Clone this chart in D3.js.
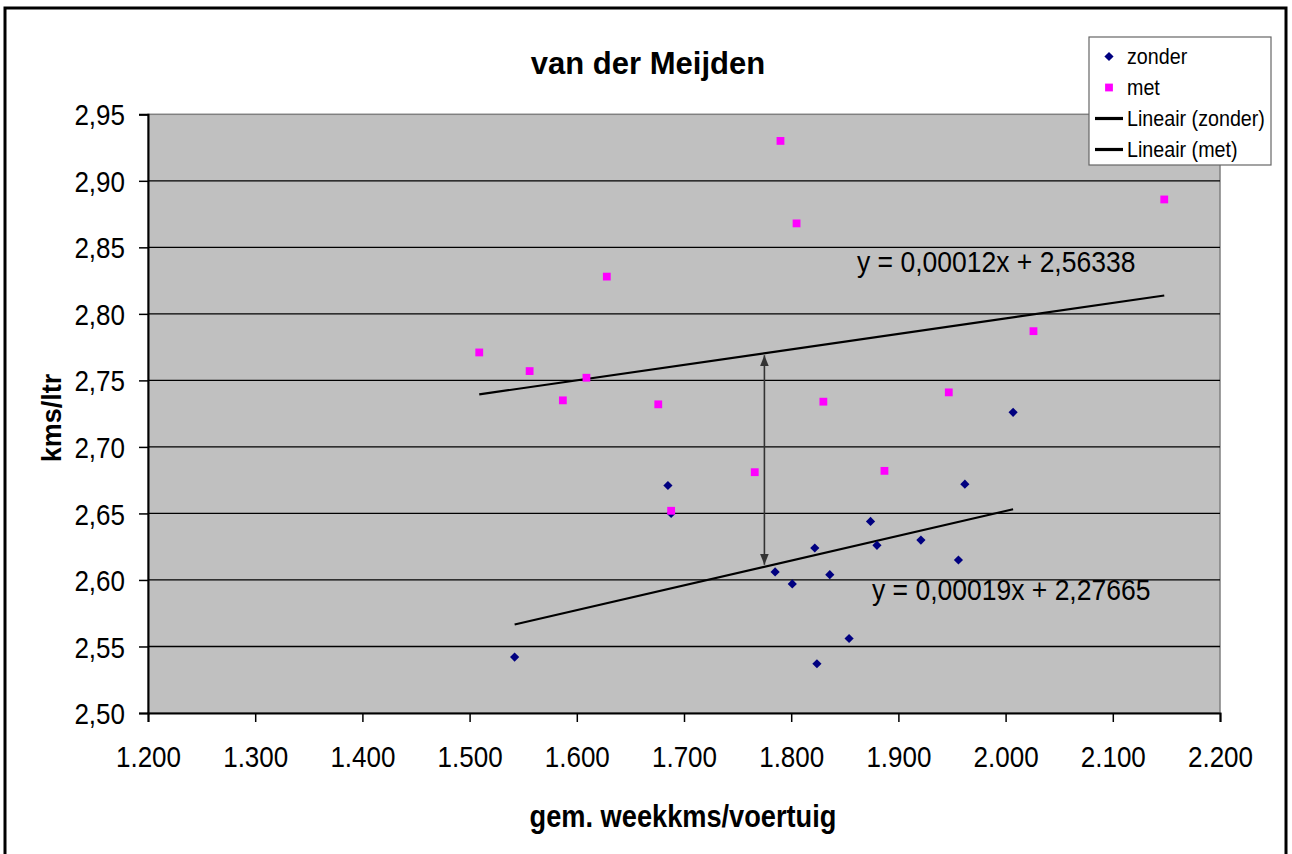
<!DOCTYPE html>
<html>
<head>
<meta charset="utf-8">
<script src="https://cdn.jsdelivr.net/npm/d3@7"></script>
<style>
  html, body { margin: 0; padding: 0; background: #fff; }
  svg text { font-family: "Liberation Sans", Arial, sans-serif; fill: #000; }
</style>
</head>
<body>
<svg id="chart" width="1292" height="854"></svg>
<script>
/* van der Meijden – kms/ltr vs gem. weekkms, with and without */

// ---- data ----
const zonderX = [1542, 1685, 1688, 1785, 1801, 1822, 1824, 1836, 1854, 1874, 1880, 1921, 1956, 1962, 2007];
const zonderY = [2.542, 2.671, 2.650, 2.606, 2.597, 2.624, 2.537, 2.604, 2.556, 2.644, 2.626, 2.630, 2.615, 2.672, 2.726];

const metX = [1509, 1556, 1587, 1609, 1628, 1676, 1688, 1766, 1790, 1805, 1830, 1887, 1947, 2026, 2148];
const metY = [2.771, 2.757, 2.735, 2.752, 2.828, 2.732, 2.652, 2.681, 2.930, 2.868, 2.734, 2.682, 2.741, 2.787, 2.886];

const xTicks = [1200, 1300, 1400, 1500, 1600, 1700, 1800, 1900, 2000, 2100, 2200];
const yTicks = [2.50, 2.55, 2.60, 2.65, 2.70, 2.75, 2.80, 2.85, 2.90, 2.95];

const legendLabels = ["zonder", "met", "Lineair (zonder)", "Lineair (met)"];
const eqLabels = ["y = 0,00012x + 2,56338", "y = 0,00019x + 2,27665"];
const arrowAt = 1775;   // x where the gap between both trends is marked

// ---- layout ----
const M = { left: 148, right: 1220, top: 114.3, bottom: 713 };
const SY = 1.13;        // the reference's text is drawn a bit tall
const DIAMOND = "M0,-4.6L4.6,0L0,4.6L-4.6,0Z";
const SQ = 7.8;

const svg = d3.select("#chart");
const nl = d3.formatLocale({ decimal: ",", thousands: ".", grouping: [3], currency: ["€", ""] });
const fmtX = nl.format(",.0f");
const fmtY = nl.format(".2f");

const x = d3.scaleLinear().domain([1200, 2200]).range([M.left, M.right]);
const y = d3.scaleLinear().domain([2.50, 2.95]).range([M.bottom, M.top]);

// outer frame
svg.append("rect")
  .attr("x", 5).attr("y", 8).attr("width", 1281).attr("height", 870)
  .attr("fill", "#fff").attr("stroke", "#000").attr("stroke-width", 3);

// plot area
svg.append("rect")
  .attr("x", M.left).attr("y", M.top)
  .attr("width", M.right - M.left).attr("height", M.bottom - M.top)
  .attr("fill", "#c0c0c0").attr("stroke", "#808080").attr("stroke-width", 1.5);

// gridlines
svg.append("g").selectAll("line")
  .data(yTicks.filter(t => t > 2.5 && t < 2.95))
  .join("line")
    .attr("x1", M.left).attr("x2", M.right)
    .attr("y1", d => y(d)).attr("y2", d => y(d))
    .attr("stroke", "#000").attr("stroke-width", 1.3);

// y axis
const gy = svg.append("g")
  .attr("transform", `translate(${M.left},0)`)
  .call(d3.axisLeft(y).tickValues(yTicks).tickFormat(fmtY).tickSize(9).tickPadding(14));
gy.select(".domain").attr("stroke-width", 2);
gy.selectAll(".tick line").attr("stroke-width", 1.5);
gy.selectAll(".tick text")
  .attr("font-size", 26).attr("font-family", "Liberation Sans, Arial, sans-serif")
  .attr("dy", "0.36em")
  .attr("transform", `scale(1,${SY})`);

// x axis
const gx = svg.append("g")
  .attr("transform", `translate(0,${M.bottom})`)
  .call(d3.axisBottom(x).tickValues(xTicks).tickFormat(fmtX).tickSize(9));
gx.select(".domain").attr("stroke-width", 2);
gx.selectAll(".tick line").attr("stroke-width", 1.5);
gx.selectAll(".tick text")
  .attr("font-size", 26).attr("font-family", "Liberation Sans, Arial, sans-serif")
  .attr("dy", 0).attr("y", 54 / SY)
  .attr("transform", `scale(1,${SY})`);

// least-squares trend lines (Excel "Lineair")
function fit(xs, ys) {
  const mx = d3.mean(xs), my = d3.mean(ys);
  const b = d3.sum(xs, (v, i) => (v - mx) * (ys[i] - my)) / d3.sum(xs, v => (v - mx) ** 2);
  return { b, a: my - b * mx, x0: d3.min(xs), x1: d3.max(xs) };
}
const fitZ = fit(zonderX, zonderY);
const fitM = fit(metX, metY);

const trend = svg.append("g");
[fitZ, fitM].forEach(f => {
  trend.append("line")
    .attr("x1", x(f.x0)).attr("y1", y(f.a + f.b * f.x0))
    .attr("x2", x(f.x1)).attr("y2", y(f.a + f.b * f.x1))
    .attr("stroke", "#000").attr("stroke-width", 2.2);
});

// double arrow between trends
const defs = svg.append("defs");
defs.append("marker")
  .attr("id", "ah").attr("viewBox", "0 0 10 10")
  .attr("refX", 10).attr("refY", 5)
  .attr("markerWidth", 7).attr("markerHeight", 7)
  .attr("orient", "auto-start-reverse")
  .append("path").attr("d", "M0,1L10,5L0,9Z").attr("fill", "#333");
svg.append("line")
  .attr("x1", x(arrowAt)).attr("x2", x(arrowAt))
  .attr("y1", y(fitZ.a + fitZ.b * arrowAt) - 2)
  .attr("y2", y(fitM.a + fitM.b * arrowAt) + 2)
  .attr("stroke", "#333").attr("stroke-width", 1.6)
  .attr("marker-start", "url(#ah)").attr("marker-end", "url(#ah)");

// points
const pts = svg.append("g");
pts.selectAll("path.zonder")
  .data(d3.zip(zonderX, zonderY))
  .join("path")
    .attr("class", "zonder")
    .attr("transform", d => `translate(${x(d[0])},${y(d[1])})`)
    .attr("d", DIAMOND)
    .attr("fill", "#000080");
pts.selectAll("rect.met")
  .data(d3.zip(metX, metY))
  .join("rect")
    .attr("class", "met")
    .attr("x", d => x(d[0]) - SQ / 2).attr("y", d => y(d[1]) - SQ / 2)
    .attr("width", SQ).attr("height", SQ)
    .attr("fill", "#ff00ff");

// trend equations
const eqPos = [[857, 272], [872, 600]];
eqLabels.forEach((t, i) => {
  svg.append("text")
    .attr("transform", `translate(${eqPos[i][0]},${eqPos[i][1]}) scale(1,${SY})`)
    .attr("font-size", 26.5)
    .text(t);
});

// title and axis titles
svg.append("text")
  .attr("x", 648).attr("y", 74)
  .attr("text-anchor", "middle").attr("font-size", 31).attr("font-weight", "bold")
  .text("van der Meijden");

svg.append("text")
  .attr("transform", `translate(683,826.5) scale(1,${SY})`)
  .attr("text-anchor", "middle").attr("font-size", 27.2).attr("font-weight", "bold")
  .text("gem. weekkms/voertuig");

svg.append("text")
  .attr("transform", "translate(61,418) rotate(-90)")
  .attr("text-anchor", "middle").attr("font-size", 27).attr("font-weight", "bold")
  .text("kms/ltr");

// legend
const lg = svg.append("g").attr("transform", "translate(1089,37)");
lg.append("rect")
  .attr("width", 182).attr("height", 128)
  .attr("fill", "#fff").attr("stroke", "#666").attr("stroke-width", 1.2);
const rowY = i => 26.5 + 31 * i;
legendLabels.forEach((lab, i) => {
  const cy = rowY(i) - 7;
  if (i === 0) {
    lg.append("path").attr("transform", `translate(20,${cy})`)
      .attr("d", DIAMOND).attr("fill", "#000080");
  } else if (i === 1) {
    lg.append("rect").attr("x", 20 - SQ / 2).attr("y", cy - SQ / 2)
      .attr("width", SQ).attr("height", SQ).attr("fill", "#ff00ff");
  } else {
    lg.append("line").attr("x1", 6).attr("x2", 34).attr("y1", cy).attr("y2", cy)
      .attr("stroke", "#000").attr("stroke-width", 3.2);
  }
  lg.append("text")
    .attr("transform", `translate(38,${rowY(i)}) scale(1,1.15)`)
    .attr("font-size", 19.7)
    .text(lab);
});
</script>
</body>
</html>
